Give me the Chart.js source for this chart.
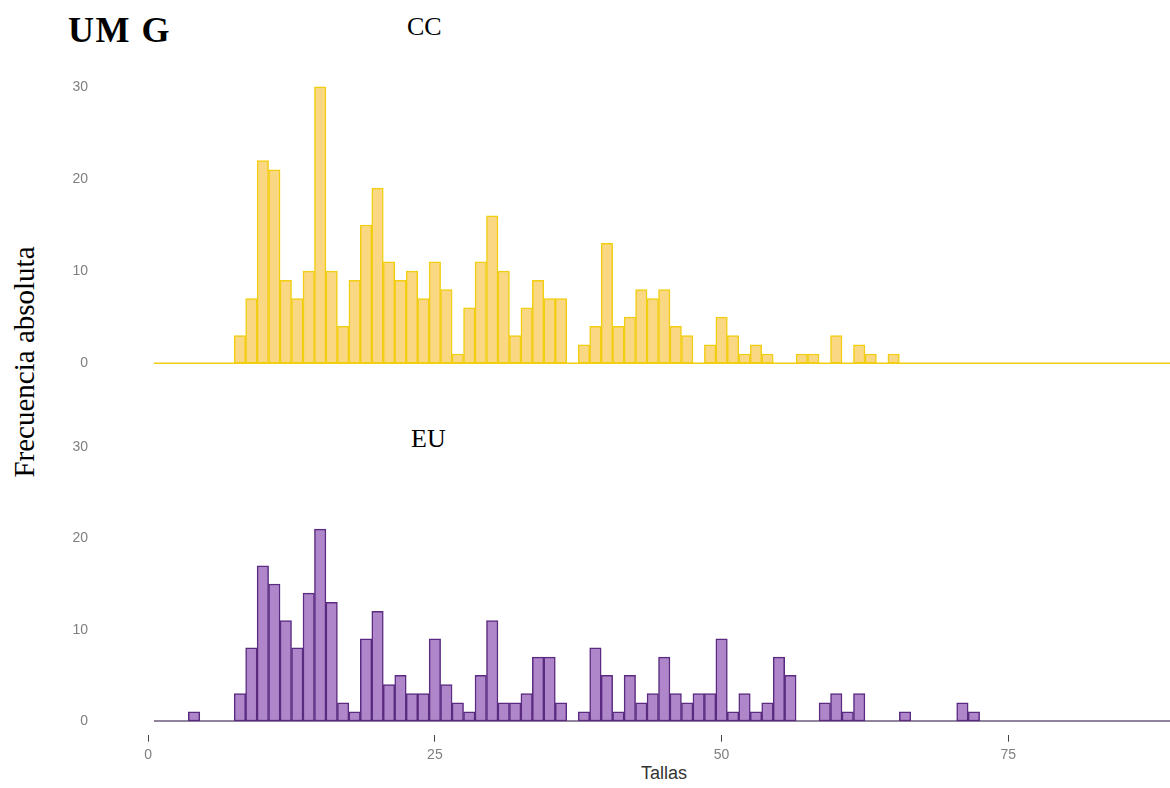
<!DOCTYPE html>
<html lang="es">
<head>
  <meta charset="UTF-8">
  <title>UM G - Tallas</title>
  <script src="https://cdn.jsdelivr.net/npm/chart.js@4.4.1/dist/chart.umd.min.js"></script>
  <style>
    html, body { margin: 0; padding: 0; background: #fff; }
    #page { position: relative; width: 1170px; height: 788px; overflow: hidden; }
    canvas { position: absolute; left: 0; }
    .txt { position: absolute; line-height: 1; white-space: nowrap; color: #000; }
    .serif { font-family: "Liberation Serif", "Times New Roman", serif; }
  </style>
</head>
<body>
<div id="page">
  <div class="txt serif" style="left:68px; top:12px; font-size:36px; font-weight:bold; letter-spacing:1.5px;">UM G</div>
  <div class="txt serif" style="left:407px; top:14px; font-size:26px;">CC</div>
  <div class="txt serif" style="left:411px; top:426px; font-size:26px;">EU</div>
  <div class="txt serif" style="left:24px; top:362px; font-size:29px; transform:translate(-50%,-50%) rotate(-90deg);">Frecuencia absoluta</div>
  <div class="txt" style="left:664px; top:773px; transform:translate(-50%,-50%); font-family:'Liberation Sans',Arial,sans-serif; font-size:18px; color:#333;">Tallas</div>

  <canvas id="chartCC" width="1170" height="330" style="top:60px;"></canvas>
  <canvas id="chartEU" width="1170" height="368" style="top:420px;"></canvas>
</div>

<script>
  // clases de talla (1 en 1)
  var tallas = [
    1, 2, 3, 4, 5, 6, 7, 8, 9, 10, 11, 12, 13, 14, 15, 16, 17, 18, 19, 20,
    21, 22, 23, 24, 25, 26, 27, 28, 29, 30, 31, 32, 33, 34, 35, 36, 37, 38, 39, 40,
    41, 42, 43, 44, 45, 46, 47, 48, 49, 50, 51, 52, 53, 54, 55, 56, 57, 58, 59, 60,
    61, 62, 63, 64, 65, 66, 67, 68, 69, 70, 71, 72, 73, 74, 75, 76, 77, 78, 79, 80,
    81, 82, 83, 84, 85, 86, 87, 88, 89
  ];

  // frecuencia absoluta CC
  var ccFreq = [
    0, 0, 0, 0, 0, 0, 0, 3, 7, 22, 21, 9, 7, 10, 30, 10, 4, 9, 15, 19,
    11, 9, 10, 7, 11, 8, 1, 6, 11, 16, 10, 3, 6, 9, 7, 7, 0, 2, 4, 13,
    4, 5, 8, 7, 8, 4, 3, 0, 2, 5, 3, 1, 2, 1, 0, 0, 1, 1, 0, 3,
    0, 2, 1, 0, 1, 0, 0, 0, 0, 0, 0, 0, 0, 0, 0, 0, 0, 0, 0, 0,
    0, 0, 0, 0, 0, 0, 0, 0, 0
  ];

  // frecuencia absoluta EU
  var euFreq = [
    0, 0, 0, 1, 0, 0, 0, 3, 8, 17, 15, 11, 8, 14, 21, 13, 2, 1, 9, 12,
    4, 5, 3, 3, 9, 4, 2, 1, 5, 11, 2, 2, 3, 7, 7, 2, 0, 1, 8, 5,
    1, 5, 2, 3, 7, 3, 2, 3, 3, 9, 1, 3, 1, 2, 7, 5, 0, 0, 2, 3,
    1, 3, 0, 0, 0, 1, 0, 0, 0, 0, 2, 1, 0, 0, 0, 0, 0, 0, 0, 0,
    0, 0, 0, 0, 0, 0, 0, 0, 0
  ];

  var xTicks = [0, 25, 50, 75];
  var yTicks = [0, 10, 20, 30];

  var xMin = -4.2, xMax = 89.1;
  var yMin = -1.5, yMax = 31.5;

  function makeChart(id, freq, fill, stroke, baseColor, showX, pad) {
    var bars = tallas.map(function (t, i) { return { x: t, y: freq[i] }; });
    // linea base que cubre todas las clases (las de frecuencia 0 incluidas)
    var base = [
      { x: tallas[0] - 0.5, y: 0 },
      { x: tallas[tallas.length - 1] + 0.5, y: 0 }
    ];

    return new Chart(document.getElementById(id), {
      type: 'bar',
      data: {
        datasets: [
          {
            data: bars,
            backgroundColor: fill,
            borderColor: stroke,
            borderWidth: 1.5,
            borderSkipped: false,
            barPercentage: 1,
            categoryPercentage: 1
          },
          {
            type: 'line',
            data: base,
            borderColor: baseColor,
            borderWidth: 1.5,
            pointRadius: 0,
            fill: false
          }
        ]
      },
      options: {
        responsive: false,
        animation: false,
        devicePixelRatio: 1,
        layout: { padding: pad },
        plugins: { legend: { display: false }, tooltip: { enabled: false } },
        scales: {
          x: {
            type: 'linear',
            display: showX,
            offset: false,
            min: xMin,
            max: xMax,
            afterBuildTicks: function (s) {
              s.ticks = xTicks.map(function (v) { return { value: v }; });
            },
            afterFit: function (s) {
              if (showX) s.height = 53.3;
              s.paddingLeft = 0;
              s.paddingRight = 0;
            },
            grid: {
              offset: false,
              drawOnChartArea: false,
              drawTicks: true,
              tickLength: 7,
              color: '#444',
              lineWidth: 1
            },
            border: { display: false },
            ticks: {
              padding: 5,
              maxRotation: 0,
              color: '#7f7f7f',
              font: { family: 'Liberation Sans', size: 14 }
            }
          },
          y: {
            min: yMin,
            max: yMax,
            afterBuildTicks: function (s) {
              s.ticks = yTicks.map(function (v) { return { value: v }; });
            },
            afterFit: function (s) {
              s.width = 100;
              s.paddingTop = 0;
              s.paddingBottom = 0;
            },
            grid: { display: false, drawTicks: false },
            border: { display: false },
            ticks: {
              padding: 12,
              color: '#7f7f7f',
              font: { family: 'Liberation Sans', size: 14 }
            }
          }
        }
      }
    });
  }

  makeChart('chartCC', ccFreq, '#fad783', '#f2ce12', '#f2ce12', false,
    { top: 13, bottom: 13, left: 0, right: 0 });
  makeChart('chartEU', euFreq, '#ae86c9', '#5a2b80', '#6b5a7a', true,
    { top: 13.3, bottom: 0, left: 0, right: 0 });
</script>
</body>
</html>
